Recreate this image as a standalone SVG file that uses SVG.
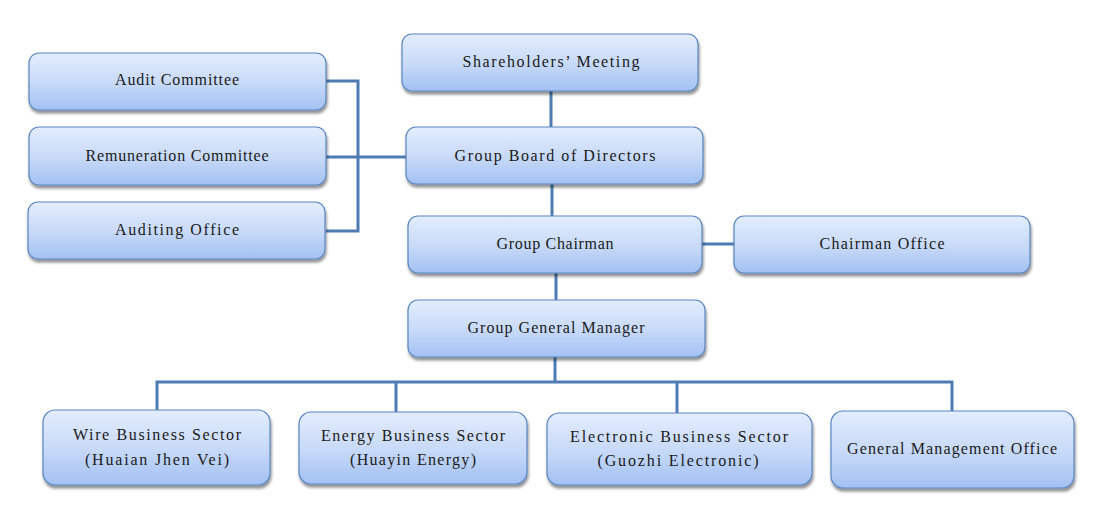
<svg xmlns="http://www.w3.org/2000/svg" width="1104" height="519" viewBox="0 0 1104 519">
<defs>
<linearGradient id="g" x1="0" y1="0" x2="0" y2="1">
<stop offset="0" stop-color="#e3edfd"/>
<stop offset="0.5" stop-color="#c9dbf8"/>
<stop offset="1" stop-color="#a3c1f3"/>
</linearGradient>
<filter id="sh" x="-10%" y="-10%" width="120%" height="140%">
<feGaussianBlur in="SourceAlpha" stdDeviation="1.5"/>
<feOffset dx="1" dy="2.5" result="o"/>
<feComponentTransfer><feFuncA type="linear" slope="0.45"/></feComponentTransfer>
<feMerge><feMergeNode/><feMergeNode in="SourceGraphic"/></feMerge>
</filter>
</defs>
<style>
.box{fill:url(#g);stroke:#5a86c2;stroke-width:1.2;filter:url(#sh)}
.t{font-family:"Liberation Serif","DejaVu Serif",serif;font-size:16px;fill:#1a1a1a;text-anchor:middle;dominant-baseline:central}
.c{fill:none;stroke:#4e7db6;stroke-width:3}
</style>
<rect width="1104" height="519" fill="#ffffff"/>
<g id="connectors">
<polyline class="c" points="326,81 358,81 358,231 326,231"/>
<line class="c" x1="326" y1="157" x2="406" y2="157"/>
<line class="c" x1="551" y1="91" x2="551" y2="127"/>
<line class="c" x1="552" y1="184" x2="552" y2="217"/>
<line class="c" x1="702" y1="244" x2="735" y2="244"/>
<line class="c" x1="556" y1="273" x2="556" y2="301"/>
<line class="c" x1="555" y1="357" x2="555" y2="382"/>
<polyline class="c" points="157,410 157,382 952,382 952,411"/>
<line class="c" x1="396" y1="382" x2="396" y2="412"/>
<line class="c" x1="677" y1="382" x2="677" y2="413"/>
</g>
<g id="audit-committee"><rect class="box" x="29" y="53" width="297" height="57" rx="10"/><text class="t" x="177" y="79.5" textLength="124" lengthAdjust="spacing">Audit Committee</text></g>
<g id="remuneration-committee"><rect class="box" x="29" y="127" width="297" height="58" rx="10"/><text class="t" x="177" y="155.5" textLength="183" lengthAdjust="spacing">Remuneration Committee</text></g>
<g id="auditing-office"><rect class="box" x="28" y="202" width="297" height="57" rx="10"/><text class="t" x="177" y="229.5" textLength="124" lengthAdjust="spacing">Auditing Office</text></g>
<g id="shareholders-meeting"><rect class="box" x="402" y="34" width="296" height="57" rx="10"/><text class="t" x="551" y="61.5" textLength="177" lengthAdjust="spacing">Shareholders’ Meeting</text></g>
<g id="board-of-directors"><rect class="box" x="406" y="127" width="297" height="57" rx="10"/><text class="t" x="555" y="155.5" textLength="201" lengthAdjust="spacing">Group Board of Directors</text></g>
<g id="group-chairman"><rect class="box" x="408" y="216" width="294" height="57" rx="10"/><text class="t" x="555" y="243.5" textLength="117" lengthAdjust="spacing">Group Chairman</text></g>
<g id="chairman-office"><rect class="box" x="734" y="216" width="296" height="57" rx="10"/><text class="t" x="882" y="243.5" textLength="125" lengthAdjust="spacing">Chairman Office</text></g>
<g id="group-general-manager"><rect class="box" x="408" y="300" width="297" height="57" rx="10"/><text class="t" x="556" y="327.5" textLength="177" lengthAdjust="spacing">Group General Manager</text></g>
<g id="wire-business-sector"><rect class="box" x="43" y="410" width="227" height="75" rx="12"/><text class="t" x="157" y="434.5" textLength="168" lengthAdjust="spacing">Wire Business Sector</text><text class="t" x="157" y="459.5" textLength="144" lengthAdjust="spacing">(Huaian Jhen Vei)</text></g>
<g id="energy-business-sector"><rect class="box" x="299" y="412" width="228" height="72" rx="12"/><text class="t" x="413" y="435.5" textLength="184" lengthAdjust="spacing">Energy Business Sector</text><text class="t" x="413" y="459.5" textLength="126" lengthAdjust="spacing">(Huayin Energy)</text></g>
<g id="electronic-business-sector"><rect class="box" x="547" y="413" width="265" height="72" rx="12"/><text class="t" x="679" y="436.5" textLength="218" lengthAdjust="spacing">Electronic Business Sector</text><text class="t" x="678" y="460.5" textLength="161" lengthAdjust="spacing">(Guozhi Electronic)</text></g>
<g id="general-management-office"><rect class="box" x="831" y="411" width="243" height="77" rx="12"/><text class="t" x="952" y="448.5" textLength="210" lengthAdjust="spacing">General Management Office</text></g>
</svg>
